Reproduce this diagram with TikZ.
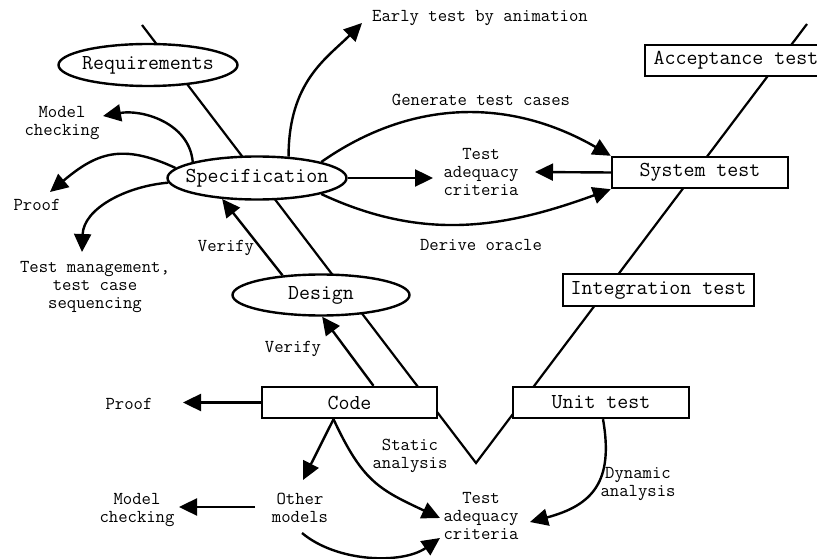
\documentclass[tikz,border=0pt]{standalone}
\usetikzlibrary{arrows.meta,shapes.geometric}
\newcommand\mynodefont{\ttfamily\fontsize{21.3}{24}\selectfont}
\newcommand\mylabelfont{\ttfamily\fontsize{18.2}{18.2}\selectfont}
\begin{document}
\begin{tikzpicture}[x=1pt,y=1pt,
  ell/.style={ellipse, draw, line width=2.4pt, fill=white, font=\mynodefont, inner sep=-20pt},
  box/.style={rectangle, draw, line width=2.4pt, fill=white, font=\mynodefont, inner sep=0pt},
  lbl/.style={font=\mylabelfont, align=center, inner sep=0pt},
  arr/.style={line width=2.4pt, -{Triangle[length=18pt,width=17pt]}},
  vline/.style={line width=2.2pt}]
\useasboundingbox (0,0) rectangle (817,558);
\clip (0,0) rectangle (817,558);

% V line
\coordinate (v1) at (142,533);
\coordinate (v2) at (476,95);
\coordinate (v3) at (807,534);
\draw[vline] (v1) -- (v2) -- (v3);

% main nodes
\node[ell, minimum width=179pt, minimum height=42pt] (req) at (148,493) {Requirements};
\node[ell, minimum width=179pt, minimum height=43pt] (spec) at (257,380) {Specification};
\node[ell, minimum width=177pt, minimum height=41pt] (design) at (321,263) {Design};
\node[box, minimum width=182pt, minimum height=31pt] (accept) at (736,497.5) {Acceptance test};
\node[box, minimum width=176pt, minimum height=31pt] (sys) at (700,385.5) {System test};
\node[box, minimum width=191pt, minimum height=32pt] (integ) at (658.5,268) {Integration test};
\node[box, minimum width=176pt, minimum height=31pt] (unit) at (601,155.5) {Unit test};
\node[box, minimum width=175pt, minimum height=31pt] (code) at (349.5,155.5) {Code};

% labels
\node[lbl] (early) at (480,540) {Early test by animation};
\node[lbl] (mcA) at (62,435) {Model\\checking};
\node[lbl] (proofA) at (37,353) {Proof};
\node[lbl] (tm) at (95,271) {Test management,\\test case\\sequencing};
\node[lbl] (gen) at (481,458) {Generate test cases};
\node[lbl] (derive) at (481,313) {Derive oracle};
\node[lbl] (tacA) at (481,386) {Test\\adequacy\\criteria};
\node[lbl] (verA) at (226,310) {Verify};
\node[lbl] (verB) at (293,209) {Verify};
\node[lbl] (proofB) at (129,154) {Proof};
\node[lbl] (other) at (300,50) {Other\\models};
\node[lbl] (mcB) at (137,48) {Model\\checking};
\node[lbl] (static) at (410,102) {Static\\analysis};
\node[lbl] (tacB) at (481,42) {Test\\adequacy\\criteria};
\node[lbl] (dyn) at (638,74) {Dynamic\\analysis};

% arrows from specification
\draw[arr] (spec.34) to[out=90,in=225,out distance=75pt,in distance=50pt] ([shift={(-118,-5)}]early.center);
\draw[arr] (spec.166) to[out=95,in=10] ([shift={(41,7)}]mcA.center);
\draw[arr] (spec.173) to[out=155,in=40,looseness=1.2] ([shift={(13,13)}]proofA.center);
\draw[arr] (spec.183) to[out=185,in=88] ([shift={(-13,35)}]tm.center);
\draw[arr] (spec.14) to[out=35,in=150] (sys.north west);
\draw[arr] (spec.346) to[out=-25,in=200] (sys.south west);
\draw[arr] (spec.east) -- ([shift={(-48,-6)}]tacA.center);
\draw[arr] (sys.west) -- ([shift={(54,0)}]tacA.center);

% verify
\draw[arr] (design.153) -- (spec.211);
\draw[arr] ([xshift=24pt]code.north) -- (design.-87);

% from code
\draw[arr] (code.west) -- ([shift={(54,1.5)}]proofB.center);
\draw[arr] ([xshift=-16pt]code.south) -- ([shift={(3,28)}]other.center);
\draw[arr] ([xshift=-16pt]code.south) to[out=-65,in=155,looseness=1.2] ([shift={(-41,-2)}]tacB.center);
\draw[arr] ([shift={(-45,1)}]other.center) -- ([shift={(42,3)}]mcB.center);
\draw[arr] ([shift={(2,-25)}]other.center) to[out=-40,in=215,looseness=0.85] ([shift={(-41,-22)}]tacB.center);
\draw[arr] ([xshift=2pt]unit.south) to[out=-80,in=15,looseness=1.3] ([shift={(49,-6)}]tacB.center);
\end{tikzpicture}
\end{document}
